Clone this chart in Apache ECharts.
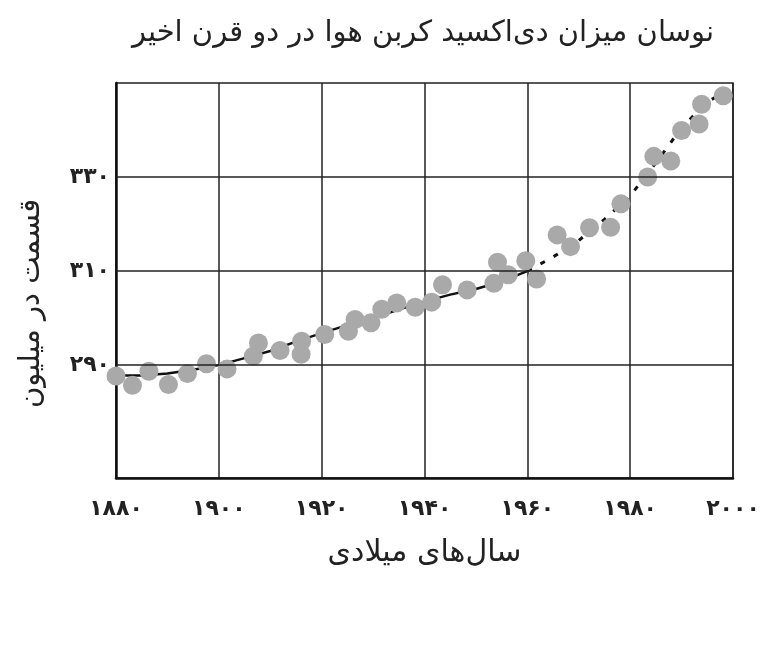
<!DOCTYPE html>
<html>
<head>
<meta charset="utf-8">
<script src="https://cdn.jsdelivr.net/npm/echarts@6/dist/echarts.min.js"></script>
<style>html,body{margin:0;padding:0;background:#fff;}#chart{width:768px;height:671px;}</style>
</head>
<body>
<div id="chart"></div>
<script>
// Observed CO2 measurements (year, ppm)
const pointYears = [1880.0,1883.2,1886.4,1890.2,1893.9,1897.6,1901.6,1906.7,1907.7,1911.9,1916.0,1916.1,1920.6,1925.2,1926.5,1929.6,1931.7,1934.6,1938.2,1941.4,1943.5,1948.3,1953.5,1954.2,1956.3,1959.7,1961.8,1965.8,1968.4,1972.1,1976.2,1978.2,1983.4,1984.6,1987.9,1990.0,1993.4,1993.9,1998.1];
const pointValues = [287.7,285.7,288.7,285.9,288.2,290.3,289.2,291.9,294.7,293.1,292.3,295.1,296.5,297.2,299.7,299.0,301.9,303.2,302.3,303.4,307.1,306.0,307.4,311.9,309.2,312.2,308.3,317.7,315.2,319.2,319.3,324.3,330.0,334.4,333.4,339.9,341.3,345.5,347.3];
// Trend line (solid part up to 1960)
const trendYears = [1880,1885,1890,1895,1900,1905,1910,1915,1920,1925,1930,1935,1940,1945,1950,1955,1960];
const trendValues = [287.8,287.8,288.2,289.0,290.0,291.5,293.0,295.0,296.8,298.5,300.0,301.8,303.5,305.0,306.2,307.8,310.0];
// Trend line (dashed projection after 1960)
const dashYears = [1960,1965,1970,1975,1980,1985,1990,1995,2000];
const dashValues = [310.0,313.0,316.5,321.0,326.0,333.0,340.5,346.0,349.0];
// Tick labels
const xTickValues = [1880,1900,1920,1940,1960,1980,2000];
const xTickLabels = ['۱۸۸۰','۱۹۰۰','۱۹۲۰','۱۹۴۰','۱۹۶۰','۱۹۸۰','۲۰۰۰'];
const yTickValues = [290,310,330];
const yTickLabels = ['۲۹۰','۳۱۰','۳۳۰'];
const titleText = 'نوسان میزان دی‌اکسید کربن هوا در دو قرن اخیر';
const xName = 'سال‌های میلادی';
const yName = 'قسمت در میلیون';

const FONT = 'DejaVu Sans';
const chart = echarts.init(document.getElementById('chart'), null, {renderer:'canvas'});
const zip = (a,b) => a.map((v,i)=>[v,b[i]]);
chart.setOption({
  animation:false,
  backgroundColor:'#fff',
  title:{text:titleText,left:418,top:14,textAlign:'center',
    textStyle:{fontFamily:FONT,fontSize:29,fontWeight:'normal',color:'#222'}},
  grid:{left:116,right:35,top:83,bottom:193,show:true,borderColor:'#222',borderWidth:1.5,backgroundColor:'transparent'},
  xAxis:{type:'value',min:1880,max:2000,interval:20,
    name:xName,nameLocation:'middle',nameGap:60,
    nameTextStyle:{fontFamily:FONT,fontSize:30,color:'#222'},
    axisLine:{show:true,onZero:false,lineStyle:{color:'#111',width:2.5}},
    axisTick:{show:false},
    splitLine:{show:true,lineStyle:{color:'#222',width:1.5}},
    axisLabel:{margin:20,fontFamily:FONT,fontSize:22,fontWeight:'bold',color:'#222',
      formatter:v=>{const i=xTickValues.indexOf(v);return i<0?'':xTickLabels[i];}}},
  yAxis:{type:'value',min:266,max:350,interval:2,
    name:yName,nameLocation:'middle',nameGap:70,nameRotate:90,
    nameTextStyle:{fontFamily:FONT,fontSize:29,color:'#222',padding:[0,46,0,0]},
    axisLine:{show:true,onZero:false,lineStyle:{color:'#111',width:2.5}},
    axisTick:{show:false},
    splitLine:{show:false},
    axisLabel:{margin:6,fontFamily:FONT,fontSize:22,fontWeight:'bold',color:'#222',
      formatter:v=>{const i=yTickValues.indexOf(v);return i<0?'':yTickLabels[i];}}},
  series:[
    {type:'line',data:zip(trendYears,trendValues),showSymbol:false,symbol:'none',z:1,
      lineStyle:{color:'#111',width:2.5},
      markLine:{silent:true,symbol:'none',label:{show:false},
        lineStyle:{color:'#222',width:1.5,type:'solid'},
        data:yTickValues.map(v=>({yAxis:v}))}},
    {type:'line',data:zip(dashYears,dashValues),showSymbol:false,symbol:'none',z:1,
      lineStyle:{color:'#111',width:3,type:[5,10]}},
    {type:'scatter',data:zip(pointYears,pointValues),symbolSize:19,z:3,
      itemStyle:{color:'#a9a9a9',opacity:1}}
  ]
});
</script>
</body>
</html>
